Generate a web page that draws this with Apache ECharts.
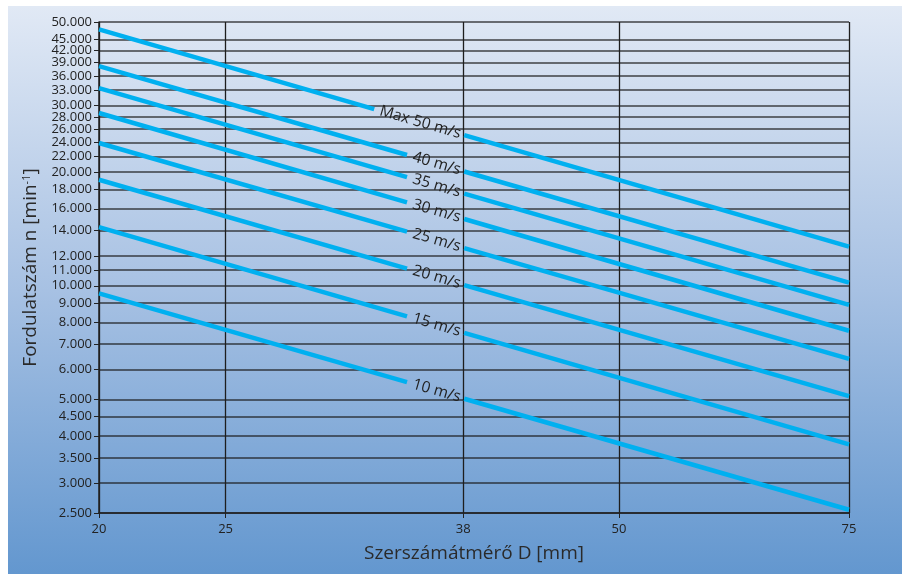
<!DOCTYPE html>
<html>
<head>
<meta charset="utf-8">
<script src="https://cdn.jsdelivr.net/npm/echarts@6/dist/echarts.min.js"></script>
<style>
html,body{margin:0;padding:0;background:#fff;}
#chart{width:906px;height:574px;}
</style>
</head>
<body>
<div id="chart"></div>
<script>
// ---- data ----
const xTicks = [20, 25, 38, 50, 75];
const yTicks = [2500, 3000, 3500, 4000, 4500, 5000, 6000, 7000, 8000, 9000, 10000, 11000, 12000, 14000, 16000, 18000, 20000, 22000, 24000, 26000, 28000, 30000, 33000, 36000, 39000, 42000, 45000, 50000];
const speedLabels = ['Max 50 m/s', '40 m/s', '35 m/s', '30 m/s', '25 m/s', '20 m/s', '15 m/s', '10 m/s'];
const diameterStart = 20;
const diameterEnd = 75;
const rpmAtStart = [47800, 38200, 33400, 28700, 23900, 19100, 14300, 9550];
const rpmAtEnd = [12700, 10200, 8900, 7600, 6400, 5100, 3800, 2550];
const labelAnchorD = 38;

const seriesData = speedLabels.map((s, i) => [diameterStart, rpmAtStart[i], diameterEnd, rpmAtEnd[i], i]);

const fmt = v => String(v).replace(/\B(?=(\d{3})+(?!\d))/g, '.');
const FONT = '"Open Sans", "Noto Sans", sans-serif';

const chart = echarts.init(document.getElementById('chart'));
chart.setOption({
  animation: false,
  backgroundColor: '#ffffff',
  graphic: [{
    type: 'rect', z: -10, silent: true,
    shape: { x: 8, y: 6, width: 894, height: 568 },
    style: {
      fill: new echarts.graphic.LinearGradient(0, 0, 0, 1, [
        { offset: 0, color: '#e1e9f5' },
        { offset: 0.5, color: '#a7c1e3' },
        { offset: 1, color: '#6397cf' }
      ])
    }
  }],
  grid: { left: 99, right: 57, top: 22, bottom: 61, containLabel: false },
  xAxis: {
    type: 'log', logBase: 10, min: 20, max: 75,
    name: 'Szerszámátmérő D [mm]', nameLocation: 'middle', nameGap: 31,
    nameTextStyle: { fontFamily: FONT, fontSize: 19, color: '#2a2a2a', verticalAlign: 'top' },
    axisLine: { show: true, lineStyle: { color: '#222', width: 1.5 } },
    axisTick: { show: true, length: 5, customValues: xTicks, lineStyle: { color: '#222' } },
    axisLabel: { customValues: xTicks, fontFamily: FONT, fontSize: 13, color: '#222', margin: 10 },
    splitLine: { show: true, lineStyle: { color: '#1e1e1e', width: 1.3 } }
  },
  yAxis: {
    type: 'log', logBase: 10, min: 2500, max: 50000,
    name: 'Fordulatszám n [min{sup|-1}]', nameLocation: 'middle', nameGap: 58,
    nameTextStyle: { fontFamily: FONT, fontSize: 19, color: '#2a2a2a',
      rich: { sup: { fontFamily: FONT, fontSize: 11, color: '#2a2a2a', verticalAlign: 'top', padding: [0, 0, 8, 0] } } },
    axisLine: { show: true, lineStyle: { color: '#222', width: 1.5 } },
    axisTick: { show: true, length: 5, customValues: yTicks, lineStyle: { color: '#222' } },
    axisLabel: { customValues: yTicks, formatter: fmt, fontFamily: FONT, fontSize: 13, color: '#222', margin: 7 },
    splitLine: { show: true, lineStyle: { color: 'rgba(25,25,25,0.8)', width: 1.5 } }
  },
  series: [{
    type: 'custom',
    coordinateSystem: 'cartesian2d',
    encode: { x: [0, 2], y: [1, 3] },
    data: seriesData,
    z: 5,
    renderItem: function (params, api) {
      const p1 = api.coord([api.value(0), api.value(1)]);
      const p2 = api.coord([api.value(2), api.value(3)]);
      const idx = api.value(4);
      const label = speedLabels[idx];
      const xg = api.coord([labelAnchorD, 10000])[0] + 1;
      const yAt = x => p1[1] + (x - p1[0]) / (p2[0] - p1[0]) * (p2[1] - p1[1]);
      const gap = label.length * 8.2 + 8;
      const xs = xg - gap;
      const ang = Math.atan2(p2[1] - p1[1], p2[0] - p1[0]);
      const lineStyle = { stroke: '#00b0f0', lineWidth: 4.5, lineCap: 'butt' };
      const xm = (xs + xg) / 2 + 1;
      return {
        type: 'group',
        children: [
          { type: 'line', shape: { x1: p1[0], y1: p1[1], x2: xs, y2: yAt(xs) }, style: lineStyle },
          { type: 'line', shape: { x1: xg, y1: yAt(xg), x2: p2[0], y2: p2[1] }, style: lineStyle },
          { type: 'text', x: xm, y: yAt(xm), rotation: -ang,
            style: { text: label, fontFamily: FONT, fontSize: 15.5, fill: '#222', align: 'center', verticalAlign: 'middle' } }
        ]
      };
    }
  }]
});
</script>
</body>
</html>
